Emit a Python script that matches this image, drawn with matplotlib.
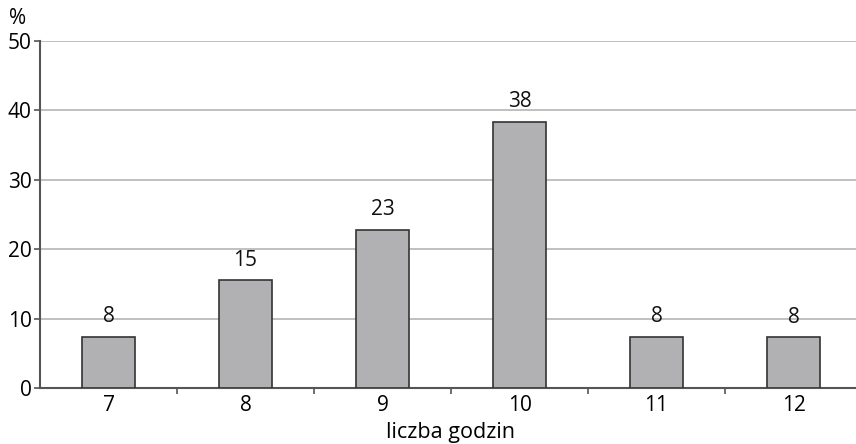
import matplotlib.pyplot as plt

plt.rcParams['font.family'] = ['Open Sans', 'DejaVu Sans']

# dane
godziny = ['7', '8', '9', '10', '11', '12']
procent = [7.4, 15.5, 22.8, 38.4, 7.4, 7.3]
etykiety = ['8', '15', '23', '38', '8', '8']

fig = plt.figure(figsize=(8.56, 4.44), dpi=100)
ax = fig.add_axes([40 / 856, 56 / 444, 822 / 856, 347 / 444])

x = range(len(godziny))
bars = ax.bar(x, procent, width=0.38, color='#b1b1b3', edgecolor='#333333',
              linewidth=1.2, zorder=3)

for b, lab in zip(bars, etykiety):
    ax.annotate(lab, (b.get_x() + b.get_width() / 2, b.get_height()),
                xytext=(0, 7), textcoords='offset points',
                ha='center', va='bottom', fontsize=15, color='#111111')

ax.set_xlim(-0.5, len(godziny) - 0.5)
ax.set_ylim(0, 50)
ax.set_yticks([0, 10, 20, 30, 40, 50])
ax.set_xticks(list(x))
ax.set_xticklabels(godziny)
ax.set_xticks([i + 0.5 for i in range(len(godziny))], minor=True)

ax.grid(axis='y', color='#b5b5b5', linewidth=1.2, zorder=0)
ax.tick_params(axis='x', which='major', length=0, pad=5, labelsize=15)
ax.tick_params(axis='x', which='minor', length=4, width=1.2, color='#555555')
ax.tick_params(axis='y', length=4, width=1.2, color='#555555', labelsize=15, pad=2)

for s in ['top', 'right']:
    ax.spines[s].set_visible(False)
for s in ['left', 'bottom']:
    ax.spines[s].set_color('#555555')
    ax.spines[s].set_linewidth(1.5)

ax.set_xlabel('liczba godzin', fontsize=15.5, labelpad=4)
fig.text(9 / 856, 1 - 18 / 444, '%', fontsize=15, ha='left', va='center')

fig.savefig('out.png', dpi=100)
